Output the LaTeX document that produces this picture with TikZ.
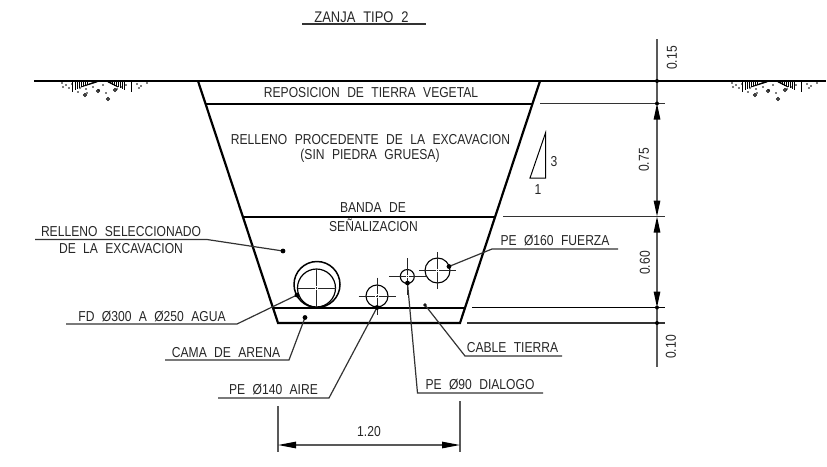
\documentclass[tikz,border=0pt]{standalone}
\usepackage{fontspec}
\setmainfont[WordSpace=2.2,FakeStretch=0.84]{Liberation Sans}
\usetikzlibrary{arrows.meta}
\tikzset{
  txt/.style={inner sep=0pt,font=\fontsize{14.4}{16}\selectfont,text=black!85},
  zanja/.style={line width=2.2pt,black},
  linea/.style={line width=2.2pt,black},
  fino/.style={line width=1.2pt,black!80},
  cota/.style={line width=1.2pt,black!65},
  punto/.style={fill=black,draw=none},
  eje/.style={line width=1pt,black!85},
  tip/.style={{Triangle[length=16pt,width=6.5pt,black]}-{Triangle[length=16pt,width=6.5pt,black]}},
  terreno/.pic={
    \foreach \x in {0,2,...,12} \draw[line width=0.8pt] (\x,0) -- (\x,{9-\x*0.45});
    \foreach \x in {0,2,...,12} \draw[line width=0.8pt] (49-\x,0) -- (49-\x,{9-\x*0.45});
    \draw[line width=0.8pt,fill=black] (6,6) -- (22,1) -- (22,0) -- cycle;
    \draw[line width=0.8pt,fill=black] (43,6) -- (33,1) -- (33,0) -- cycle;
    \draw[line width=0.9pt] (-3,0) -- (-3,11) (56,0) -- (56,11);
    \foreach \x/\y in {-13/2,-9/4,-3/3,-12/6,-6/7,5/7,3/11,11/8,18/6,28/4,31/12,42/8,46/6,51/4,62/3,66/5,72/2,64/7,12/12,24/9}
      \fill (\x,\y) circle (0.9pt);
    \foreach \x/\y in {10/14,23/10,33/18,40/9}
      \draw[line width=0.8pt] (\x,\y) circle (1.5pt);
  }
}
\newcommand{\cruz}[2]{\draw[eje,shift={(#1)}] (-#2,0) -- (-1.6,0) (-0.6,0) -- (0.6,0) (1.6,0) -- (#2,0) (0,-#2) -- (0,-1.6) (0,-0.6) -- (0,0.6) (0,1.6) -- (0,#2);}
\begin{document}
\begin{tikzpicture}[x=1pt,y=-1pt]
\useasboundingbox (0,0) rectangle (827,466);
% titulo
\node[txt,font=\fontsize{15.4}{17}\selectfont] (titulo) at (361.5,17) {ZANJA TIPO 2};
\draw[fino] (302,24) -- (426,24);
% terreno
\coordinate (ta) at (34,81);
\coordinate (tb) at (826,81);
\draw[zanja] (ta) -- (tb);
\pic at (75,81) {terreno};
\pic at (745,81) {terreno};
% zanja
\coordinate (z1) at (198,81);
\coordinate (z2) at (278,323);
\coordinate (z3) at (460,323);
\coordinate (z4) at (540,81);
\draw[zanja,line join=miter] (z1) -- (z2) -- (z3) -- (z4);
\coordinate (v1) at (206,103.8);
\coordinate (v2) at (533,103.8);
\coordinate (b1) at (244,216.8);
\coordinate (b2) at (495,216.8);
\coordinate (a1) at (272.5,307.8);
\coordinate (a2) at (465,307.8);
\draw[linea] (v1) -- (v2);
\draw[linea] (b1) -- (b2);
\draw[linea] (a1) -- (a2);
\node[txt] (vegetal) at (371,93) {REPOSICION DE TIERRA VEGETAL};
\node[txt] (relleno) at (370.5,140) {RELLENO PROCEDENTE DE LA EXCAVACION};
\node[txt] (piedra) at (370,156) {(SIN PIEDRA GRUESA)};
\node[txt] (banda) at (373,208) {BANDA DE};
\node[txt] (senal) at (373.5,225) {SEÑALIZACION};
% talud
\coordinate (t1) at (545.5,133);
\coordinate (t2) at (545.5,178);
\coordinate (t3) at (530,178);
\draw[line width=1pt] (t1) -- (t2) -- (t3) -- cycle;
\node[txt] (tres) at (554,162) {3};
\node[txt] (uno) at (538,190) {1};
%------------------------------------------------
% tubos
\coordinate (fd) at (316.5,288);
\coordinate (pe140) at (377,296);
\coordinate (pe90) at (407.3,276.5);
\coordinate (pe160) at (437.5,270.5);
\draw[line width=1.5pt] (317,284.5) circle (23pt);
\draw[line width=1.2pt] (fd) circle (19pt);
\draw[line width=1.1pt] (pe140) circle (11pt);
\draw[line width=1.1pt] (pe90) circle (7pt);
\draw[line width=1.1pt] (pe160) circle (12.5pt);
\cruz{fd}{19}
\cruz{pe140}{18.5}
\cruz{pe90}{18.5}
\cruz{pe160}{18.5}
%------------------------------------------------
% rotulos
\coordinate (l1a) at (35,239.5);
\coordinate (l1b) at (207,239.5);
\coordinate (l1c) at (283,251);
\draw[fino] (l1a) -- (l1b) -- (l1c);
\fill[punto] (l1c) circle (2.4pt);
\node[txt] (sel1) at (121,232) {RELLENO SELECCIONADO};
\node[txt] (sel2) at (121,249) {DE LA EXCAVACION};
\coordinate (l2a) at (66,324);
\coordinate (l2b) at (237,324);
\coordinate (l2c) at (297,295);
\draw[fino] (l2a) -- (l2b) -- (l2c);
\fill[punto] (l2c) circle (2.4pt);
\node[txt] (agua) at (152,317) {FD Ø300 A Ø250 AGUA};
\coordinate (l3a) at (165,360);
\coordinate (l3b) at (289,360);
\coordinate (l3c) at (305,317.5);
\draw[fino] (l3a) -- (l3b) -- (l3c);
\fill[punto] (l3c) circle (2.4pt);
\node[txt] (arena) at (226,353) {CAMA DE ARENA};
\coordinate (l4a) at (218,398);
\coordinate (l4b) at (329,398);
\coordinate (l4c) at (377,307.5);
\draw[fino] (l4a) -- (l4b) -- (l4c);
\fill[punto] (l4c) circle (2.4pt);
\node[txt] (aire) at (273.5,390) {PE Ø140 AIRE};
\coordinate (l5a) at (543,393);
\coordinate (l5b) at (417.5,393);
\coordinate (l5c) at (407.5,283);
\draw[fino] (l5a) -- (l5b) -- (l5c);
\fill[punto] (l5c) circle (2.4pt);
\node[txt] (dialogo) at (480,385) {PE Ø90 DIALOGO};
\coordinate (l6a) at (562,356);
\coordinate (l6b) at (465,356);
\coordinate (l6c) at (425,305);
\draw[fino] (l6a) -- (l6b) -- (l6c);
\draw[line width=0.9pt,fill=white] (l6c) circle (1.2pt);
\node[txt] (cable) at (512.5,348) {CABLE TIERRA};
\coordinate (l7a) at (618,249);
\coordinate (l7b) at (492,249);
\coordinate (l7c) at (449,266.5);
\draw[fino] (l7a) -- (l7b) -- (l7c);
\fill[punto] (l7c) circle (2.4pt);
\node[txt] (fuerza) at (555,241) {PE Ø160 FUERZA};
%------------------------------------------------
% cotas
\coordinate (c0) at (657,39);
\coordinate (c1) at (657,81);
\coordinate (c2) at (657,103.5);
\coordinate (c3) at (657,216.5);
\coordinate (c4) at (657,307.5);
\coordinate (c5) at (657,323);
\coordinate (c6) at (657,367);
\draw[cota] (c0) -- (c1) -- (c2);
\draw[cota] (c5) -- (c6);
\draw[cota] (c4) -- (c5);
\draw[cota,tip] (c2) -- (c3);
\draw[cota,tip] (c3) -- (c4);
\draw[fino] (540,103.5) -- (c2) -- (665,103.5);
\draw[fino] (503,216.5) -- (c3) -- (665,216.5);
\draw[line width=1.2pt] (472,307.5) -- (c4) -- (665,307.5);
\draw[fino] (467,323) -- (c5) -- (665,323);
\foreach \p in {c1,c2,c4,c5} \fill[punto] (\p) circle (2pt);
\node[txt,rotate=90] (d15) at (672,58) {0.15};
\node[txt,rotate=90] (d75) at (644,160) {0.75};
\node[txt,rotate=90] (d60) at (645,263) {0.60};
\node[txt,rotate=90] (d10) at (671,347) {0.10};
\coordinate (e1) at (278,406);
\coordinate (e2) at (278,452);
\coordinate (e3) at (460,401);
\coordinate (e4) at (460,452);
\coordinate (e5) at (278,445);
\coordinate (e6) at (460,445);
\draw[cota] (e1) -- (e2);
\draw[cota] (e3) -- (e4);
\draw[cota,{Triangle[length=18pt,width=6.5pt,black]}-{Triangle[length=18pt,width=6.5pt,black]}] (e5) -- (e6);
\node[txt] (ancho) at (369,432) {1.20};
\end{tikzpicture}
\end{document}
